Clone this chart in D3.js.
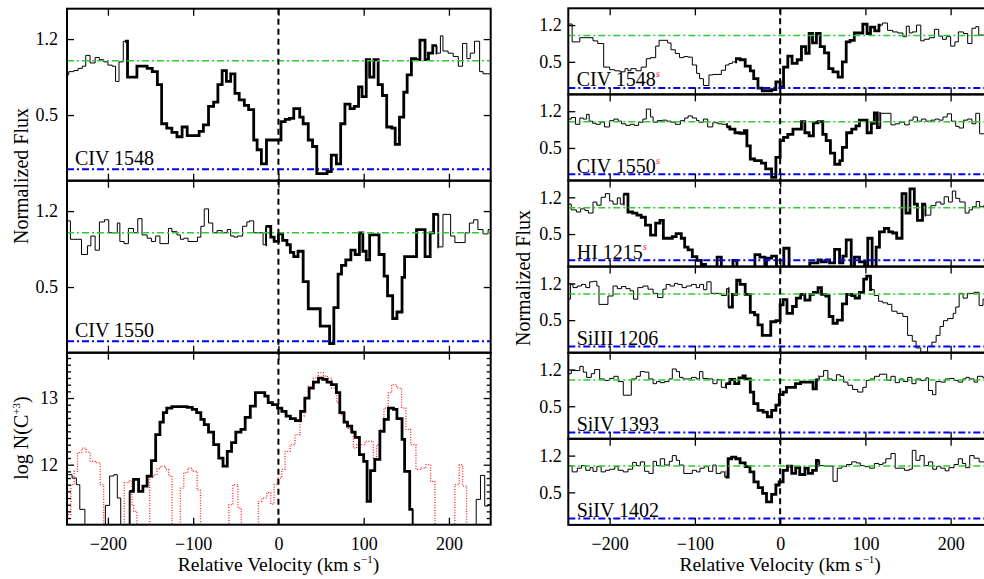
<!DOCTYPE html>
<html><head><meta charset="utf-8">
<script src="https://cdn.jsdelivr.net/npm/d3@7"></script>
<style>
body{margin:0;background:#fff;}
svg{display:block;font-family:"Liberation Serif","Times New Roman",serif;}
</style></head><body>
<svg id="chart" width="984" height="579"></svg>
<script>
// ---------- tick values ----------
const velTicks = [-200, -100, 0, 100, 200];
const fluxTicks = [0.5, 1.2];
const logTicks = [12, 13];

// ---------- spectra: [velocity at step start (km/s), value] ----------
const civ1548L = [[-250,0.87],[-246,0.90],[-240,0.91],[-235,0.93],[-230,0.95],[-226,1.05],[-221,0.98],[-215,1.03],[-210,1.01],[-205,0.99],[-200,0.96],[-195,0.95],[-191,0.81],[-187,0.99],[-182,1.18],[-177,0.85],[-166,0.95],[-154,0.93],[-148,0.90],[-142,0.78],[-137,0.42],[-131,0.38],[-125,0.34],[-119,0.30],[-113,0.39],[-107,0.31],[-93,0.35],[-88,0.41],[-82,0.58],[-76,0.62],[-71,0.78],[-66,0.91],[-61,0.81],[-56,0.88],[-51,0.70],[-46,0.64],[-40,0.59],[-35,0.55],[-29,0.27],[-25,0.18],[-20,0.05],[-14,0.27],[3,0.44],[8,0.46],[13,0.47],[18,0.56],[25,0.48],[29,0.42],[35,0.27],[40,0.21],[45,-0.04],[57,-0.02],[62,0.13],[68,0.05],[73,0.42],[78,0.60],[84,0.56],[89,0.58],[94,0.76],[98,0.67],[103,1.01],[107,0.85],[112,1.01],[117,0.78],[122,0.68],[127,0.39],[133,0.38],[137,0.23],[142,0.48],[147,0.71],[151,0.87],[156,1.02],[161,1.01],[166,1.19],[172,1.01],[176,1.07],[181,1.14],[186,1.07],[190,1.23],[193,1.09],[199,1.07],[205,1.04],[211,0.95],[216,1.16],[221,1.02],[225,1.07],[230,1.18],[236,0.90],[240,0.88]];
const civ1550L = [[-250,1.11],[-244,0.94],[-231,0.80],[-224,0.88],[-220,0.97],[-215,0.84],[-210,1.10],[-204,1.12],[-199,1.00],[-189,1.09],[-186,0.92],[-181,0.90],[-176,1.04],[-170,1.00],[-165,1.13],[-160,0.98],[-154,0.95],[-149,0.92],[-144,0.97],[-139,0.90],[-129,1.04],[-125,1.01],[-119,0.98],[-115,0.94],[-111,0.95],[-106,0.92],[-95,0.96],[-91,1.06],[-87,1.22],[-82,1.09],[-77,1.00],[-72,1.02],[-66,1.00],[-60,1.03],[-56,0.97],[-52,0.96],[-48,0.97],[-42,1.06],[-37,1.10],[-34,1.11],[-29,1.00],[-18,0.89],[-15,1.06],[-9,0.96],[-5,0.92],[0,0.99],[5,0.93],[10,0.89],[14,0.82],[18,0.78],[23,0.83],[29,0.55],[35,0.30],[49,0.14],[60,-0.02],[65,0.31],[70,0.62],[74,0.70],[79,0.75],[85,0.84],[90,0.80],[95,1.00],[99,0.83],[103,0.75],[107,0.98],[118,0.80],[124,0.60],[128,0.42],[134,0.21],[139,0.27],[145,0.59],[148,0.78],[162,1.03],[172,0.78],[178,1.00],[182,1.17],[188,0.87],[193,1.17],[202,0.97],[207,0.91],[219,1.00],[224,1.09],[229,1.12],[234,1.03],[240,0.99],[246,1.03]];
const logNciv = [[-250,11.85],[-242,11.80],[-237,11.70],[-233,11.33],[-227,10.9],[-203,11.39],[-198,11.83],[-193,11.85],[-189,11.50],[-185,10.9],[-175,11.60],[-170,11.78],[-164,11.60],[-159,11.68],[-154,11.83],[-149,12.06],[-144,12.45],[-139,12.64],[-135,12.78],[-131,12.85],[-125,12.87],[-107,12.86],[-101,12.83],[-96,12.78],[-91,12.68],[-87,12.60],[-82,12.49],[-76,12.30],[-70,12.10],[-65,11.98],[-60,12.20],[-55,12.33],[-50,12.49],[-44,12.53],[-39,12.71],[-33,12.88],[-27,13.08],[-16,13.03],[-12,12.93],[-7,12.90],[-1,12.85],[4,12.80],[9,12.73],[14,12.69],[20,12.66],[26,12.80],[31,13.00],[36,13.15],[41,13.24],[47,13.30],[52,13.28],[57,13.24],[62,13.20],[68,13.08],[72,12.78],[77,12.64],[81,12.58],[86,12.49],[90,12.41],[95,12.15],[100,12.05],[104,11.45],[108,11.91],[113,12.08],[119,12.50],[124,12.68],[129,12.85],[135,12.83],[139,12.69],[145,12.38],[148,11.90],[154,11.33],[158,10.9],[232,11.48],[237,11.84],[242,11.38],[246,11.40]];
const logNcivRed = [[-250,10.9],[-248,11.25],[-243.5,11.70],[-239.6,11.90],[-235.7,12.18],[-230.6,12.25],[-225.5,12.19],[-220.8,12.05],[-214.9,12.03],[-209,11.70],[-205,10.9],[-180.8,11.73],[-175.7,11.76],[-171.8,11.40],[-169.8,11.30],[-166,10.9],[-151,11.81],[-146.3,11.85],[-142.4,11.94],[-138.5,11.98],[-132.6,11.93],[-128.7,11.83],[-124.7,10.9],[-115,11.65],[-111,11.88],[-106.3,11.95],[-101.2,11.90],[-95.3,11.62],[-91.4,10.9],[-58.1,11.40],[-53.4,11.70],[-47.5,11.35],[-43.6,10.9],[-23.4,11.45],[-19.5,11.50],[-13.7,11.58],[-9,11.41],[-5.1,11.70],[-1.2,11.80],[3.9,11.93],[7.8,12.20],[13.7,12.30],[19.5,12.45],[25.4,12.73],[30.1,13.00],[35.2,13.18],[41,13.30],[46.9,13.38],[52.7,13.33],[57.4,13.30],[62.5,13.15],[68.4,12.93],[72.3,12.75],[76.9,12.63],[82,12.53],[87.9,12.25],[91.8,12.30],[101.6,12.35],[111.3,12.08],[115.2,12.30],[119.1,12.53],[123.8,12.85],[128.9,13.08],[132.8,13.20],[138.7,13.15],[144.5,12.85],[149.6,12.53],[155.1,12.30],[161.3,11.93],[168,11.95],[173,12.00],[178.5,11.75],[183.6,10.9],[207,11.70],[212.1,12.00],[216,11.68],[220.7,10.9]];

const civ1548R = [[-250,1.22],[-244,0.88],[-235,0.96],[-219.5,0.90],[-214,0.85],[-207,0.40],[-200,0.35],[-194,0.33],[-188,0.31],[-182,0.37],[-178.5,0.33],[-175,0.37],[-169,0.33],[-163,0.40],[-157,0.56],[-152,0.58],[-146,0.80],[-142,0.91],[-132,0.86],[-128,0.73],[-123,0.66],[-118,0.58],[-113,0.60],[-108,0.59],[-103,0.44],[-98,0.28],[-94.5,0.18],[-90,0.05],[-83.5,0.25],[-79,0.26],[-69,0.34],[-64,0.44],[-60,0.47],[-56,0.50],[-52,0.56],[-47,0.54],[-41,0.42],[-35,0.33],[-31,0.18],[-26,0.0],[-21,-0.05],[-10,-0.03],[-5,0.12],[0,0.02],[4,0.40],[9,0.61],[14,0.47],[20,0.54],[25,0.79],[30,0.66],[34,1.04],[38,0.86],[42.5,1.04],[47,0.79],[52,0.67],[57,0.37],[62,0.31],[68,0.21],[73,0.50],[77.5,0.88],[82,0.91],[87,1.05],[97,1.22],[102,1.04],[106,1.16],[111,1.09],[116,1.20],[120,1.24],[126,1.10],[132,1.07],[138,1.05],[144,0.98],[148,1.18],[151.5,1.05],[155,1.07],[160,1.20],[165,0.90],[169,0.93],[175,0.96],[181,1.12],[186,0.99],[190.5,0.93],[195,0.98],[200,0.80],[205,0.88],[209,1.07],[215,1.04],[220,0.85],[225,1.14],[229.5,1.17],[233,1.01],[245,1.05]];
const civ1550R = [[-250,1.05],[-245,1.08],[-240,0.95],[-235,1.07],[-231,1.05],[-227,1.14],[-224,1.01],[-220,0.97],[-216,0.95],[-211,0.99],[-206,0.90],[-200,1.02],[-195,1.05],[-190,1.01],[-186,0.96],[-181,0.93],[-176,0.95],[-171,0.93],[-166,0.99],[-161,1.05],[-157,1.24],[-152,1.09],[-149,0.99],[-144,1.02],[-138,1.03],[-133,1.01],[-128,0.99],[-123,0.95],[-117,1.02],[-112,1.07],[-108,1.11],[-103,1.07],[-98,1.02],[-95,0.99],[-90,1.05],[-85,0.90],[-79,0.98],[-73,0.96],[-68,0.95],[-63,0.90],[-59,0.86],[-53,0.79],[-47,0.78],[-42,0.83],[-39,0.54],[-35,0.29],[-30,0.26],[-22,0.21],[-17,0.10],[-10,-0.06],[-5,0.32],[0,0.64],[4,0.70],[9,0.76],[15,0.86],[25,1.00],[29,0.79],[34,0.73],[39,0.98],[44.5,1.00],[50,0.76],[54,0.64],[59,0.40],[64,0.19],[70,0.26],[73,0.51],[78,0.79],[84,0.86],[89,0.92],[93,1.03],[102,0.79],[107,0.97],[110.5,1.17],[114,0.89],[118,1.16],[130,0.94],[135,0.96],[140,0.99],[146,0.94],[151.5,1.03],[156,1.09],[161,1.01],[166,1.05],[171,1.01],[177,1.03],[182,1.05],[186.5,1.03],[191,1.09],[196,1.15],[201,1.01],[206,0.91],[210,0.88],[215,1.03],[220,1.05],[225,0.96],[229.5,1.16],[234,0.77],[240,0.95]];
const hi1215R = [[-250,1.07],[-245,0.96],[-239,0.92],[-234,0.98],[-229,0.95],[-225,0.90],[-219.5,1.11],[-215,1.05],[-210,1.20],[-205,1.27],[-200,1.13],[-196,1.07],[-191,1.19],[-187.5,1.07],[-184,1.26],[-178.5,0.92],[-173,0.90],[-168,0.86],[-163,0.82],[-158,0.67],[-152,0.48],[-146,0.71],[-141,0.76],[-137,0.42],[-126.5,0.45],[-122,0.51],[-116,0.42],[-112,0.25],[-108,0.20],[-103,0.07],[-97.6,0.0],[-92.5,-0.08],[-87.5,-0.14],[-74,0.06],[-69,-0.14],[-55.4,0.0],[-50.7,-0.14],[-29.6,0.11],[-23.8,0.06],[-17.9,-0.14],[-16,0.04],[-10,0.08],[-4.3,-0.14],[4.3,0.23],[10.5,-0.14],[34.7,-0.05],[44.4,0.01],[48.3,-0.03],[54.1,0.01],[58,-0.05],[63.9,0.21],[69.7,-0.05],[73.6,0.08],[77.5,0.39],[83.4,-0.14],[87.2,0.06],[93.1,-0.03],[99,-0.14],[102.8,0.42],[107.9,-0.14],[112.6,0.25],[116.5,0.54],[122.3,0.61],[127.4,0.54],[132,0.52],[136.7,0.42],[143,1.27],[147.6,0.90],[152.3,1.36],[157.4,1.07],[161,0.76],[167,1.07],[171,0.86],[176.8,1.04],[182.7,1.11],[188.5,1.07],[192.4,1.21],[197.5,1.11],[202,1.32],[206,1.18],[210.7,1.11],[217,0.90],[221.6,0.96],[225.5,1.02],[230,1.12],[234,1.02],[239,1.05]];
const siiii1206R = [[-250,0.90],[-246,1.18],[-243,1.12],[-238,1.15],[-233,1.18],[-228,1.12],[-223.4,1.23],[-219.5,1.24],[-215,1.15],[-212.5,0.80],[-202,0.96],[-196,1.15],[-191,1.10],[-186,1.14],[-181,1.10],[-176,1.06],[-172,0.90],[-167,1.12],[-161,1.15],[-155,1.09],[-149,1.01],[-143.7,0.93],[-137.5,1.09],[-133.7,1.18],[-129,1.15],[-124,1.20],[-120,1.18],[-115,1.12],[-110,1.15],[-104,1.18],[-98.4,1.12],[-94.5,1.18],[-89.8,1.08],[-86,1.23],[-81,1.01],[-69,0.97],[-63,1.10],[-61,0.75],[-56,0.99],[-51,1.26],[-47,1.18],[-41,0.99],[-35,0.65],[-30,0.60],[-26,0.41],[-21,0.21],[-11,0.47],[-5,0.49],[0,0.79],[3.5,0.89],[8,0.63],[14.5,0.76],[19,0.92],[24,0.99],[29,0.88],[35,0.99],[39,1.03],[44.5,1.12],[48.5,0.99],[53.5,0.96],[57.5,0.57],[62,0.44],[67,0.50],[73,0.81],[78,0.99],[84,0.97],[88,0.92],[93,1.03],[98,1.28],[101.5,1.34],[106,1.08],[110.5,0.97],[115.5,0.86],[120.4,0.83],[126,0.80],[131,0.67],[137,0.63],[144,0.57],[149.5,0.21],[155,0.10],[159.5,-0.03],[165,-0.11],[173,0.0],[178,0.08],[183,0.21],[187.6,0.38],[191.6,0.49],[196.5,0.53],[203,0.63],[206,0.75],[210,1.01],[214.6,0.92],[219.6,1.01],[227.5,1.03],[233.4,0.78],[238,0.90]];
const siiv1393R = [[-250,1.12],[-245,1.18],[-235,1.26],[-231,1.15],[-227,1.05],[-221.5,1.12],[-217.6,1.20],[-211.7,1.02],[-206,0.99],[-200,1.03],[-195,1.07],[-190,0.97],[-184,0.71],[-174.6,1.02],[-168.7,1.07],[-164,1.16],[-159,1.15],[-154,1.02],[-149,0.93],[-145,0.97],[-140.6,0.95],[-135.5,0.97],[-130.4,1.02],[-126.5,1.21],[-121.8,1.16],[-118,1.05],[-114,1.02],[-104,1.05],[-98.4,1.02],[-94.5,1.16],[-90.6,1.03],[-84.7,1.02],[-78.9,0.93],[-74,1.01],[-69,0.86],[-64,0.93],[-59,1.01],[-53.4,0.93],[-48.4,1.04],[-43.6,1.08],[-41,1.02],[-35,0.77],[-31,0.55],[-26,0.42],[-20,0.39],[-15,0.30],[-10,0.42],[-5,0.52],[-1,0.72],[3.5,0.77],[7.4,0.86],[18,0.93],[24,0.96],[38.6,0.83],[42.5,1.00],[46,1.07],[51,1.18],[56,1.02],[61,0.99],[66,1.10],[70.5,1.07],[74.4,0.96],[79.5,0.90],[85,0.82],[91,0.77],[97,0.86],[101,0.99],[105.6,1.02],[110.6,1.07],[116.5,1.11],[125,0.99],[130,1.07],[135,0.95],[140,1.02],[144.5,0.97],[149.6,1.05],[154.6,0.93],[159.3,1.02],[165,0.99],[171,1.04],[174,0.80],[178.8,0.72],[182.7,0.97],[188.5,0.96],[193.6,1.02],[199,1.03],[204,0.99],[209,0.96],[214,1.02],[218,1.05],[222,1.02],[227.5,0.96],[231.4,1.07],[238,1.04]];
const siiv1402R = [[-250,1.01],[-244,0.89],[-238,0.96],[-233,1.01],[-228,0.92],[-223,0.97],[-219.5,0.90],[-215,0.99],[-210,0.89],[-205,0.92],[-200,0.94],[-194,0.99],[-190,0.92],[-184,0.89],[-178.5,0.94],[-173,1.07],[-168.7,1.01],[-164,1.08],[-159,0.90],[-154,0.86],[-149,1.09],[-145,1.01],[-140.6,1.14],[-135.5,1.02],[-130,1.09],[-126.5,1.20],[-121.8,1.11],[-118,1.02],[-113,0.86],[-103,0.92],[-98,0.89],[-94,0.96],[-89,0.99],[-84,0.90],[-79,1.02],[-75,0.86],[-69.5,0.89],[-65,0.79],[-61,1.14],[-57,1.17],[-52,1.14],[-47,1.06],[-41,0.99],[-35.4,0.89],[-30.8,0.70],[-25.7,0.59],[-20.6,0.48],[-16,0.32],[-10,0.46],[-5,0.64],[-1.2,0.70],[3.5,0.92],[8.6,1.00],[13.6,0.86],[18.3,0.97],[23,0.84],[29,0.96],[33,0.86],[38,0.92],[42.5,1.11],[46.3,1.01],[52,1.00],[62,0.71],[67,0.96],[72.5,0.99],[78,1.03],[84,1.08],[89.5,1.06],[94,1.01],[99,0.99],[105,0.96],[110.6,1.05],[115.7,1.03],[120.4,1.06],[124,1.14],[130,1.24],[135,0.96],[146,0.92],[151.5,0.94],[155,1.30],[159.3,1.11],[164,1.20],[169,1.01],[174,1.08],[179,0.94],[183.6,0.99],[188.5,0.96],[193.6,0.91],[198,0.97],[204,1.03],[209,1.14],[213.8,1.05],[217.7,0.97],[222.4,1.20],[227.5,1.15],[233.4,1.08],[240,1.05]];

// ---------- layout ----------
const svg = d3.select("#chart");
const defs = svg.append("defs");
const cols = {
  left:  {x0: 67,    x1: 490.7, dom: [-248, 249], tickLabelPad: 9},
  right: {x0: 568.3, x1: 992.4, dom: [-248.5, 249], tickLabelPad: 6.5}
};
const LH = 172, RH = 86.1;
const fluxDomL = [-0.105, 1.48], fluxDomR = [-0.12, 1.52];

const panels = [
  {col:"left",  top:8.7,          h:LH, ydom:fluxDomL, data:civ1548L, thick:[-180,186], label:"CIV 1548", sup:false},
  {col:"left",  top:8.7+LH,       h:LH, ydom:fluxDomL, data:civ1550L, thick:[-15,188],  label:"CIV 1550", sup:false},
  {col:"left",  top:8.7+2*LH,     h:LH, ydom:[11.1,13.68], data:logNciv, red:logNcivRed, thick:[-175,158], log:true},
  {col:"right", top:8.3,          h:RH, ydom:fluxDomR, data:civ1548R,   thick:[-53,118],  label:"CIV 1548", sup:true},
  {col:"right", top:8.3+RH,       h:RH, ydom:fluxDomR, data:civ1550R,   thick:[-63,118],  label:"CIV 1550", sup:true},
  {col:"right", top:8.3+2*RH,     h:RH, ydom:fluxDomR, data:hi1215R,    thick:[-184,171], label:"HI 1215",  sup:true},
  {col:"right", top:8.3+3*RH,     h:RH, ydom:fluxDomR, data:siiii1206R, thick:[-61,108],  label:"SiIII 1206", sup:false},
  {col:"right", top:8.3+4*RH,     h:RH, ydom:fluxDomR, data:siiv1393R,  thick:[-64,45],   label:"SiIV 1393", sup:false},
  {col:"right", top:8.3+5*RH,     h:RH, ydom:fluxDomR, data:siiv1402R,  thick:[-64,46],   label:"SiIV 1402", sup:false}
];

const dashDot = "7,3,2,3";

panels.forEach((p, i) => {
  const c = cols[p.col];
  const x = d3.scaleLinear().domain(c.dom).range([c.x0, c.x1]);
  const y = d3.scaleLinear().domain(p.ydom).range([p.top + p.h, p.top]);
  const g = svg.append("g");

  defs.append("clipPath").attr("id", "clip" + i).append("rect")
    .attr("x", c.x0).attr("y", p.top).attr("width", c.x1 - c.x0).attr("height", p.h);
  defs.append("clipPath").attr("id", "thick" + i).append("rect")
    .attr("x", x(p.thick[0])).attr("y", p.top).attr("width", x(p.thick[1]) - x(p.thick[0])).attr("height", p.h);

  const line = d3.line().x(d => x(d[0])).y(d => y(d[1])).curve(d3.curveStepAfter);
  const ext = s => s.concat([[c.dom[1] + 10, s[s.length - 1][1]]]);

  const inner = g.append("g").attr("clip-path", `url(#clip${i})`);
  if (p.red) {
    inner.append("path").attr("d", line(ext(p.red))).attr("fill", "none")
      .attr("stroke", "#ff2020").attr("stroke-width", 1.3).attr("stroke-dasharray", "1,1.6");
  }
  inner.append("path").attr("d", line(ext(p.data))).attr("fill", "none")
    .attr("stroke", "#000").attr("stroke-width", 1);
  inner.append("g").attr("clip-path", `url(#thick${i})`).append("path")
    .attr("d", line(ext(p.data))).attr("fill", "none")
    .attr("stroke", "#000").attr("stroke-width", 2.8).attr("stroke-linejoin", "miter");

  if (!p.log) {
    inner.append("line").attr("x1", c.x0).attr("x2", c.x1).attr("y1", y(1)).attr("y2", y(1))
      .attr("stroke", "#2ecc2e").attr("stroke-width", 1.5).attr("stroke-dasharray", dashDot);
    inner.append("line").attr("x1", c.x0).attr("x2", c.x1).attr("y1", y(0)).attr("y2", y(0))
      .attr("stroke", "#0000ff").attr("stroke-width", 2).attr("stroke-dasharray", dashDot);
  }

  // axes (inward ticks)
  const yt = p.log ? logTicks : fluxTicks;
  g.append("g").attr("transform", `translate(${c.x0},0)`)
    .call(d3.axisLeft(y).tickValues(yt).tickSize(-7).tickPadding(c.tickLabelPad)
      .tickFormat(p.log ? d3.format("d") : d3.format(".1f")));
  g.append("g").attr("transform", `translate(${c.x1},0)`)
    .call(d3.axisRight(y).tickValues(yt).tickSize(-7).tickFormat(""));
  if (p.log) {
    const minor = d3.range(112, 137).filter(v => v % 10 !== 0).map(v => v / 10);
    g.append("g").attr("transform", `translate(${c.x0},0)`)
      .call(d3.axisLeft(y).tickValues(minor).tickSize(-4).tickFormat(""));
    g.append("g").attr("transform", `translate(${c.x1},0)`)
      .call(d3.axisRight(y).tickValues(minor).tickSize(-4).tickFormat(""));
  }
  g.append("g").attr("transform", `translate(0,${p.top})`)
    .call(d3.axisTop(x).tickValues(velTicks).tickSize(-7).tickFormat(""));
  const isBottom = (p.col === "left" && i === 2) || (p.col === "right" && i === 8);
  g.append("g").attr("transform", `translate(0,${p.top + p.h})`)
    .call(d3.axisBottom(x).tickValues(velTicks).tickSize(-7).tickPadding(12.5)
      .tickFormat(isBottom ? (d => d < 0 ? "\u2212" + Math.abs(d) : String(d)) : ""));

  g.selectAll(".domain").remove();
  g.selectAll(".tick line").attr("stroke", "#000").attr("stroke-width", 1.3);
  g.selectAll(".tick text").attr("font-family", "Liberation Serif").attr("font-size", 18).attr("fill", "#000");

  // frame
  g.append("rect").attr("x", c.x0).attr("y", p.top).attr("width", c.x1 - c.x0).attr("height", p.h)
    .attr("fill", "none").attr("stroke", "#000").attr("stroke-width", 2);

  // label
  if (p.label) {
    const lx = p.col === "left" ? 75 : 576.7;
    const ly = p.col === "left" ? p.top + p.h - 16 : p.top + p.h - 8;
    const t = g.append("text").attr("x", lx).attr("y", ly).attr("font-size", 20).attr("fill", "#000").text(p.label);
    if (p.sup) {
      t.append("tspan").attr("dy", -9).attr("font-size", 11).attr("font-style", "italic")
        .attr("fill", "#ff2a2a").text("s");
    }
  }
});

// zero-velocity dashed lines and x titles
["left", "right"].forEach(k => {
  const c = cols[k];
  const x = d3.scaleLinear().domain(c.dom).range([c.x0, c.x1]);
  const top = k === "left" ? 8.7 : 8.3;
  svg.append("line").attr("x1", x(0)).attr("x2", x(0)).attr("y1", top).attr("y2", k === "left" ? 8.7 + 3 * LH : 8.3 + 6 * RH)
    .attr("stroke", "#000").attr("stroke-width", 2).attr("stroke-dasharray", "6,4");
  const tt = svg.append("text").attr("x", x(0)).attr("y", 571).attr("text-anchor", "middle")
    .attr("font-size", 19.5).attr("fill", "#000").text("Relative Velocity (km s");
  tt.append("tspan").attr("dy", -8).attr("font-size", 11).text("\u22121");
  tt.append("tspan").attr("dy", 8).text(")");
});

// y-axis titles
svg.append("text").attr("transform", "translate(28,176) rotate(-90)").attr("text-anchor", "middle")
  .attr("font-size", 20).attr("fill", "#000").text("Normalized Flux");
svg.append("text").attr("transform", "translate(530,278) rotate(-90)").attr("text-anchor", "middle")
  .attr("font-size", 20).attr("fill", "#000").text("Normalized Flux");
const lt = svg.append("text").attr("transform", "translate(28,438) rotate(-90)").attr("text-anchor", "middle")
  .attr("font-size", 20).attr("fill", "#000").text("log N(C");
lt.append("tspan").attr("dy", -8).attr("font-size", 11).text("+3");
lt.append("tspan").attr("dy", 8).text(")");
</script>
</body></html>
